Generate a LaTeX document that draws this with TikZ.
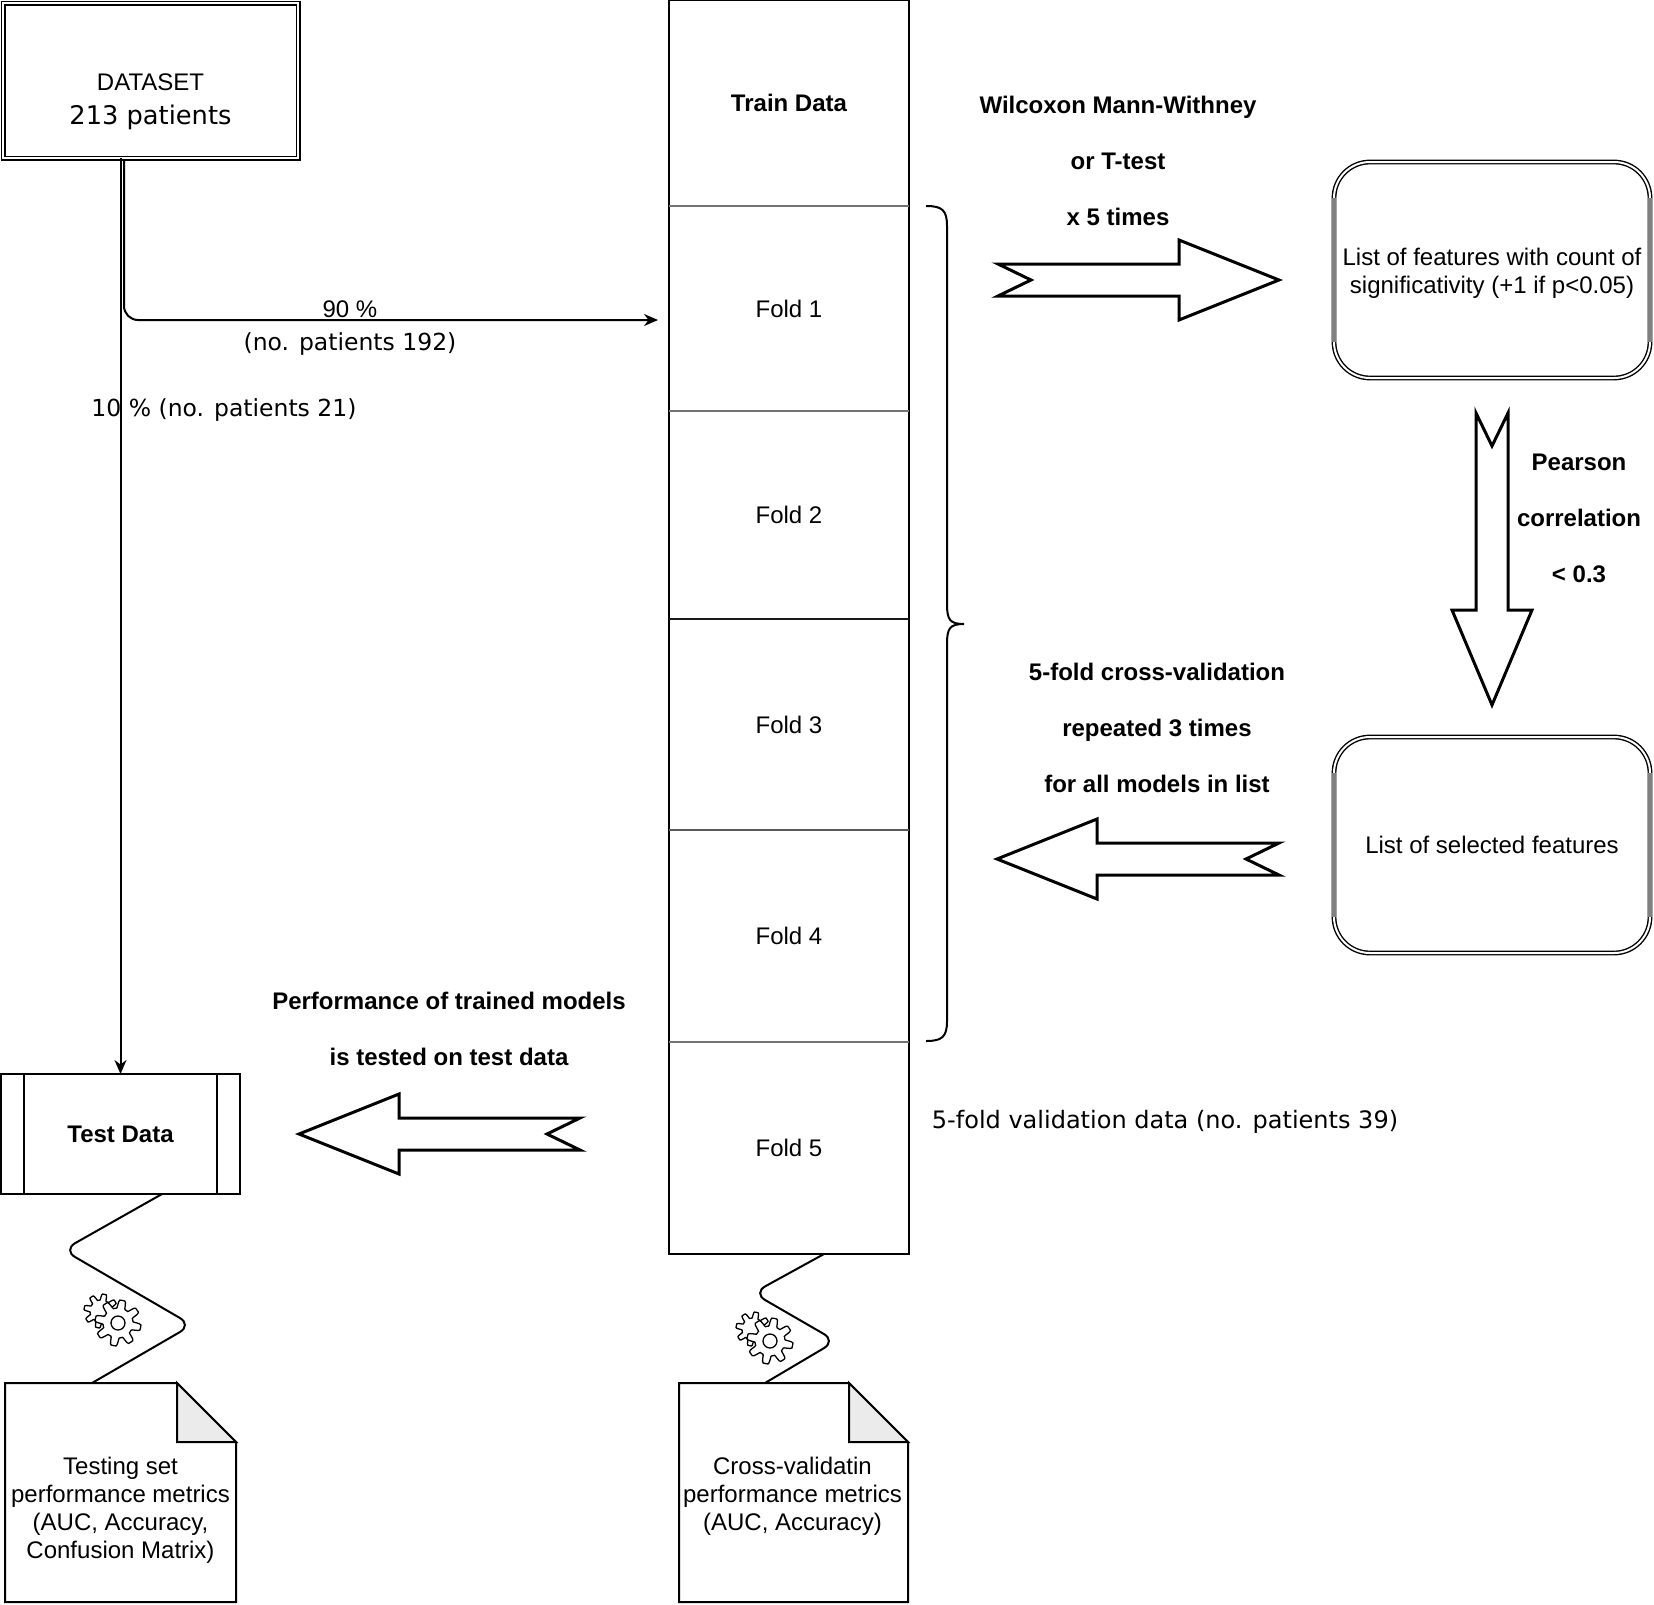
\documentclass[tikz,border=0pt]{standalone}
\usepackage{fontspec}
\setmainfont{Liberation Sans}
\newfontfamily\djvfont{DejaVu Sans}
\usepackage{tikz}
\usetikzlibrary{positioning,calc,arrows.meta}

\begin{document}
\begin{tikzpicture}
[ x=1pt, y=-1pt, line width=2pt, text=black
, point/.style={coordinate}
, plainfont/.style={font=\fontsize{24}{28}\selectfont}
, boldfont/.style={font=\fontsize{24}{56}\selectfont\bfseries, align=center}
, djvlabel/.style={font=\fontsize{23.5}{34}\selectfont\djvfont, align=center}
, foldcell/.style={rectangle, outer sep=0pt, minimum width=240pt, plainfont}
, listbox/.style={rectangle, rounded corners=36pt, draw, double, line width=1.4pt, double distance=2pt, outer sep=0pt, minimum width=316pt, minimum height=216pt, align=center, plainfont}
, docnode/.style={rectangle, outer sep=0pt}
, doctext/.style={plainfont, align=center, inner sep=0pt}
, curve/.style={rounded corners=14pt}
, wave/.style={rounded corners=14pt}
, flow/.style={-{Stealth[length=14pt,width=12pt]}}
, pics/fatarrow/.style 2 args={code={
    \draw[line width=3pt, fill=white] (0,-16) -- (#1-#2,-16) -- (#1-#2,-40) -- (#1,0)
      -- (#1-#2,40) -- (#1-#2,16) -- (0,16) -- (33,0) -- cycle;}}
, pics/gearicon/.style={code={
    \draw[line width=1.3pt, fill=white] plot[domain=0:357.5, samples=144] (\x:{14+3*max(min(2*sin(8*\x),1),-1)}) -- cycle;
    \begin{scope}[shift={(17,12)}]
    \draw[line width=1.3pt, fill=white] plot[domain=0:357.5, samples=144] (\x:{19+4*max(min(2*sin(8*\x),1),-1)}) -- cycle;
    \draw[line width=1.3pt] (0,0) circle (7);
    \end{scope}}}
]
\useasboundingbox (0,0) rectangle (1654,1604);

% Left column
\node (dataset) [rectangle, draw, double, line width=1.5pt, double distance=2pt, outer sep=0pt,
  minimum width=295pt, minimum height=155pt, align=center, font=\fontsize{24}{34}\selectfont] at (150.5,80.5)
  {\mbox{}\\[26pt]DATASET\\{\fontsize{25.7}{34}\selectfont\djvfont 213 patients}};
\node (testdata) [rectangle, draw, outer sep=0pt, minimum width=239pt, minimum height=120pt,
  font=\fontsize{24}{28}\selectfont\bfseries] at (120.5,1134) {Test Data};
\draw ($(testdata.north west)+(23,0)$) -- ($(testdata.south west)+(23,0)$);
\draw ($(testdata.north east)+(-23,0)$) -- ($(testdata.south east)+(-23,0)$);

% Folds
\node (train) [foldcell, minimum height=206pt, font=\fontsize{24}{28}\selectfont\bfseries] at (789,103) {Train Data};
\node (fold1) [foldcell, minimum height=205pt, below=0pt of train] {Fold 1};
\node (fold2) [foldcell, minimum height=208pt, below=0pt of fold1] {Fold 2};
\node (fold3) [foldcell, minimum height=211pt, below=0pt of fold2] {Fold 3};
\node (fold4) [foldcell, minimum height=212pt, below=0pt of fold3] {Fold 4};
\node (fold5) [foldcell, minimum height=212pt, below=0pt of fold4] {Fold 5};
\draw (train.north west) rectangle (fold5.south east);
\foreach \a/\c in {fold1/55,fold2/55,fold3/90,fold4/65,fold5/55} {
  \draw[black!\c] (\a.north west) -- (\a.north east);
}

% Lists
\node (features) [listbox] at (1492,270) {\rule{0pt}{24pt}List of features with count of\\significativity (+1 if p<0.05)};
\node (selected) [listbox] at (1492,845) {List of selected features};
\foreach \b in {features,selected} {
  \draw[black!50, line width=4pt] ($(\b.north west)+(0,36)$) -- ($(\b.south west)+(0,-36)$);
  \draw[black!50, line width=4pt] ($(\b.north east)+(0,36)$) -- ($(\b.south east)+(0,-36)$);
}

% Documents
\node (testdoc) [docnode, minimum width=231pt, minimum height=219pt] at (120.5,1492.5) {};
\node (cvdoc) [docnode, minimum width=229pt, minimum height=219pt] at (793.5,1492.5) {};
\foreach \d in {testdoc,cvdoc} {
  \draw[fill=white] (\d.north west) -- ($(\d.north east)+(-59,0)$) -- ($(\d.north east)+(0,59)$) -- (\d.south east) -- (\d.south west) -- cycle;
  \draw[fill=black!8] ($(\d.north east)+(-59,0)$) -- ($(\d.north east)+(-59,59)$) -- ($(\d.north east)+(0,59)$) -- cycle;
}
\node (testtext) [doctext, below=73pt of testdoc.north] {Testing set\\performance metrics\\(AUC, Accuracy,\\Confusion Matrix)};
\node (cvtext) [doctext, below=73pt of cvdoc.north, xshift=-1pt] {Cross-validatin\\performance metrics\\(AUC, Accuracy)};

% Split lines
\node (p0) [point] at (124,161) {};
\node (p1) [point] at (658,320) {};
\draw [curve, flow] (p0) |- (p1);
\draw [flow] (testdata.north |- dataset.south) -- (testdata.north);
\node (pct90) [font=\fontsize{24}{28}\selectfont] at (350,309) {90 \%};
\node (no192) [djvlabel] at (350,344) {(no. patients 192)};
\node (no21) [djvlabel] at (224,410) {10 \% (no. patients 21)};

% Brace
\node (b0) [point] at (926,206) {};
\node (b1) [point] at (964,624) {};
\node (b2) [point] at (926,1041) {};
\draw (b0) .. controls (942,206) and (947,210) .. (947,226) -- (947,604)
  .. controls (947,620) and (950,624) .. (b1) .. controls (950,624) and (947,628) .. (947,644)
  -- (947,1021) .. controls (947,1037) and (942,1041) .. (b2);

% Fat arrows
\pic at (998,280) {fatarrow={281}{100}};
\pic [rotate=-90] at (1492,413) {fatarrow={292}{95}};
\pic [rotate=180] at (1279,859) {fatarrow={282}{100}};
\pic [rotate=180] at (580,1134) {fatarrow={281}{100}};

% Labels of the arrows
\node (wilcoxon) [boldfont] at (1118,161) {Wilcoxon Mann-Withney\\or T-test\\x 5 times};
\node (pearson) [boldfont] at (1579,518) {Pearson\\correlation\\< 0.3};
\node (crossval) [boldfont] at (1157,728) {5-fold cross-validation\\repeated 3 times\\for all models in list};
\node (perf) [boldfont] at (449,1029) {Performance of trained models\\is tested on test data};
\node (val39) [djvlabel, font=\fontsize{24}{34}\selectfont\djvfont] at (1165,1122) {5-fold validation data (no. patients 39)};

% Waves and gears
\node (w1) [point] at (162,1194) {};
\node (w2) [point] at (63,1250) {};
\node (w3) [point] at (192,1325) {};
\node (w4) [point] at (92,1383) {};
\draw [wave] (w1) -- (w2) -- (w3) -- (w4);
\node (v1) [point] at (824,1254) {};
\node (v2) [point] at (753,1293) {};
\node (v3) [point] at (836,1341) {};
\node (v4) [point] at (765,1383) {};
\draw [wave] (v1) -- (v2) -- (v3) -- (v4);
\pic at (101,1311) {gearicon};
\pic at (753,1329) {gearicon};
\end{tikzpicture}
\end{document}
